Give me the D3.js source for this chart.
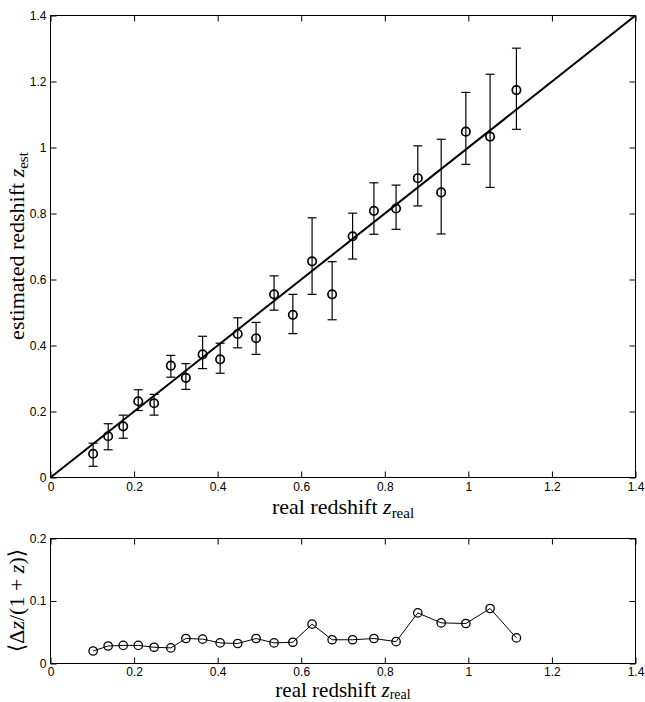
<!DOCTYPE html>
<html><head><meta charset="utf-8">
<script src="https://cdn.jsdelivr.net/npm/d3@7"></script>
<style>body{margin:0;background:#fff}svg{display:block}</style>
</head><body>
<svg id="c" width="645" height="702"></svg>
<script>
// ---- data ----
const zReal = [0.102,0.138,0.174,0.210,0.248,0.288,0.324,0.364,0.406,0.448,0.492,0.535,0.580,0.626,0.674,0.723,0.774,0.827,0.879,0.935,0.994,1.052,1.115];
const zEst  = [0.072,0.125,0.155,0.231,0.225,0.339,0.302,0.373,0.358,0.435,0.422,0.555,0.493,0.655,0.555,0.731,0.808,0.815,0.907,0.864,1.048,1.033,1.174];
const errLow  = [0.034,0.084,0.119,0.203,0.189,0.304,0.267,0.330,0.316,0.393,0.373,0.507,0.436,0.555,0.478,0.662,0.737,0.752,0.823,0.738,0.949,0.879,1.055];
const errHigh = [0.104,0.163,0.189,0.266,0.252,0.370,0.345,0.428,0.407,0.484,0.470,0.611,0.555,0.787,0.654,0.801,0.893,0.886,1.005,1.025,1.167,1.222,1.301];
const scatter = [0.020,0.028,0.029,0.029,0.026,0.025,0.040,0.039,0.033,0.032,0.040,0.033,0.034,0.063,0.038,0.038,0.040,0.035,0.081,0.065,0.064,0.088,0.041];
const xTicks = [0,0.2,0.4,0.6,0.8,1,1.2,1.4];
const yTicks = [0,0.2,0.4,0.6,0.8,1,1.2,1.4];
const yTicksBottom = [0,0.1,0.2];
const identity = [0,1.4];

// ---- layout ----
const svg = d3.select("#c");
const L = 50.5, R = 635.5;
const x = d3.scaleLinear().domain([0,1.4]).range([L,R]);
const yTop = d3.scaleLinear().domain([0,1.4]).range([477.5,15.5]);
const yBot = d3.scaleLinear().domain([0,0.2]).range([663.5,538.5]);
const tickFont = "'Liberation Sans', Arial, Helvetica, sans-serif";
const serif = "'Liberation Serif', 'Times New Roman', 'DejaVu Serif', serif";
const fmt = d => String(d);

function panel(y, yt, pad) {
  const g = svg.append("g");
  const [b, t] = y.range();
  const ax = g.append("g").attr("transform", `translate(0,${b})`)
    .call(d3.axisBottom(x).tickValues(xTicks).tickFormat(fmt).tickSizeInner(-6).tickSizeOuter(0).tickPadding(pad));
  const axT = g.append("g").attr("transform", `translate(0,${t})`)
    .call(d3.axisTop(x).tickValues(xTicks).tickFormat("").tickSizeInner(-6).tickSizeOuter(0));
  const ay = g.append("g").attr("transform", `translate(${L},0)`)
    .call(d3.axisLeft(y).tickValues(yt).tickFormat(fmt).tickSizeInner(-6).tickSizeOuter(0).tickPadding(4));
  const ayR = g.append("g").attr("transform", `translate(${R},0)`)
    .call(d3.axisRight(y).tickValues(yt).tickFormat("").tickSizeInner(-6).tickSizeOuter(0));
  [ax, axT, ay, ayR].forEach(a => {
    a.select(".domain").remove();
    a.selectAll("line").attr("stroke", "#000");
    a.selectAll("text").attr("fill", "#000").style("font-family", tickFont).style("font-size", "12px");
  });
  g.append("rect").attr("x", L).attr("y", t).attr("width", R - L).attr("height", b - t)
    .attr("fill", "none").attr("stroke", "#000").attr("stroke-width", 1);
  return g;
}

// ---- top panel ----
panel(yTop, yTicks, 5);
svg.append("line")
  .attr("x1", x(identity[0])).attr("y1", yTop(identity[0]))
  .attr("x2", x(identity[1])).attr("y2", yTop(identity[1]))
  .attr("stroke", "#000").attr("stroke-width", 2);

const eb = svg.append("g").attr("stroke", "#000").attr("stroke-width", 1.2);
zReal.forEach((v, i) => {
  const cx = x(v);
  eb.append("line").attr("x1", cx).attr("x2", cx).attr("y1", yTop(errLow[i])).attr("y2", yTop(errHigh[i]));
  eb.append("line").attr("x1", cx - 4.5).attr("x2", cx + 4.5).attr("y1", yTop(errLow[i])).attr("y2", yTop(errLow[i]));
  eb.append("line").attr("x1", cx - 4.5).attr("x2", cx + 4.5).attr("y1", yTop(errHigh[i])).attr("y2", yTop(errHigh[i]));
});
svg.append("g").selectAll("circle").data(zReal).join("circle")
  .attr("cx", d => x(d)).attr("cy", (d, i) => yTop(zEst[i])).attr("r", 4.2)
  .attr("fill", "none").attr("stroke", "#000").attr("stroke-width", 1.7);

// ---- bottom panel ----
panel(yBot, yTicksBottom, 4);
const pts = zReal.map((v, i) => [v, scatter[i]]);
svg.append("path").datum(pts)
  .attr("d", d3.line().x(d => x(d[0])).y(d => yBot(d[1])))
  .attr("fill", "none").attr("stroke", "#000").attr("stroke-width", 1);
svg.append("g").selectAll("circle").data(pts).join("circle")
  .attr("cx", d => x(d[0])).attr("cy", d => yBot(d[1])).attr("r", 4.2)
  .attr("fill", "none").attr("stroke", "#000").attr("stroke-width", 1.3);

// ---- titles ----
function xTitle(yb, fs, sfs, sdy) {
  const t = svg.append("text").attr("x", (L + R) / 2).attr("y", yb).attr("text-anchor", "middle")
    .style("font-family", serif).style("font-size", fs + "px").attr("fill", "#000");
  t.append("tspan").text("real redshift ");
  t.append("tspan").style("font-style", "italic").text("z");
  t.append("tspan").attr("dy", sdy).style("font-size", sfs + "px").text("real");
}
xTitle(514, 22, 15, 4);
xTitle(697, 21, 14, 2);

const yt1 = svg.append("text").attr("transform", `translate(24,${(15 + 477) / 2}) rotate(-90)`)
  .attr("text-anchor", "middle").style("font-family", serif).style("font-size", "22px").attr("fill", "#000");
yt1.append("tspan").text("estimated redshift ");
yt1.append("tspan").style("font-style", "italic").text("z");
yt1.append("tspan").attr("dy", 4).style("font-size", "15px").text("est");

const yt2 = svg.append("text").attr("transform", `translate(24,${(538 + 663) / 2}) rotate(-90)`)
  .attr("text-anchor", "middle").style("font-family", serif).style("font-size", "22px").attr("fill", "#000");
yt2.append("tspan").text("\u27E8\u0394");
yt2.append("tspan").style("font-style", "italic").text("z");
yt2.append("tspan").text("/(1 + ");
yt2.append("tspan").style("font-style", "italic").text("z");
yt2.append("tspan").text(")\u27E9");
</script>
</body></html>
